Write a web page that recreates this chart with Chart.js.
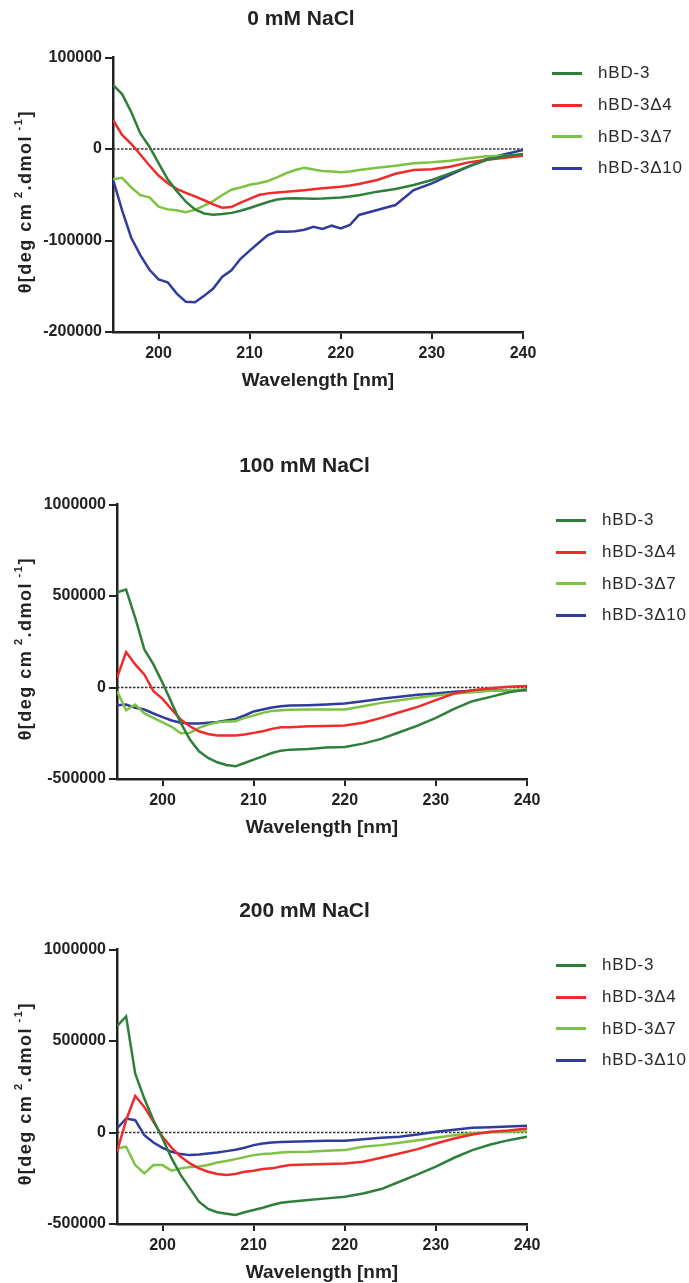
<!DOCTYPE html>
<html>
<head>
<meta charset="utf-8">
<script src="https://cdn.jsdelivr.net/npm/chart.js@4/dist/chart.umd.min.js"></script>
<style>
html,body{margin:0;padding:0;background:#fff;width:689px;height:1283px;overflow:hidden;}
.panel{position:absolute;left:0;width:689px;height:392px;}
.panel canvas{position:absolute;left:0;top:0;}
.leg{position:absolute;height:20px;font:17px "Liberation Sans",Arial,sans-serif;color:#2a2a2a;letter-spacing:0.8px;white-space:nowrap;}
.leg .ln{position:absolute;left:0;top:8.5px;width:30px;height:3px;}
.leg .tx{position:absolute;left:46px;top:0;line-height:20px;}
</style>
</head>
<body>
<div class="panel" id="p0" style="top:0px"><canvas id="c0" width="689" height="392"></canvas></div>
<div class="panel" id="p1" style="top:447px"><canvas id="c1" width="689" height="392"></canvas></div>
<div class="panel" id="p2" style="top:892px"><canvas id="c2" width="689" height="392"></canvas></div>
<script>
// ---------- data ----------
const seriesLabels = ['hBD-3', 'hBD-3\u03944', 'hBD-3\u03947', 'hBD-3\u039410'];
const seriesColors = ['#2f7f3a', '#ef2b2b', '#7cc243', '#2f3c9c'];
const xTicks = [200, 210, 220, 230, 240];

// 0 mM NaCl
const wl0 = [195,196,197,198,199,200,201,202,203,204,205,206,207,208,209,210,211,212,213,214,215,216,217,218,219,220,221,222,224,226,228,230,232,234,236,238,240];
const hbd3_0   = [70000,60000,40500,17000,2500,-15500,-33000,-46000,-57600,-66000,-70500,-71800,-71000,-69800,-67500,-64500,-61200,-58000,-55300,-54000,-53700,-54000,-54300,-54200,-53500,-53000,-52000,-50500,-46600,-43700,-39300,-33900,-26600,-19300,-12000,-7700,-5500];
const hbd3d4_0 = [31700,15300,5500,-6000,-18000,-29000,-37500,-43500,-48000,-51700,-56000,-60500,-64100,-63500,-58500,-54500,-50300,-48500,-47500,-46800,-45800,-45000,-44000,-43000,-42000,-41200,-40000,-38300,-33900,-27000,-23000,-22200,-19300,-14600,-11700,-9500,-7300];
const hbd3d7_0 = [-33200,-31500,-42000,-50500,-52800,-63000,-66000,-67000,-69000,-66500,-62000,-57000,-50300,-44500,-42000,-39000,-37500,-35000,-31000,-26500,-23000,-20400,-22500,-24000,-24500,-25500,-24500,-23000,-20400,-18200,-15700,-14600,-12800,-10200,-8000,-7300,-6600];
const hbd3d10_0= [-33200,-67000,-97000,-116000,-132000,-142500,-145700,-158000,-167000,-167500,-160500,-152500,-139600,-132500,-120000,-111000,-102500,-94000,-90300,-90400,-90000,-88200,-85000,-87400,-83800,-86700,-83100,-72100,-66700,-61200,-44800,-37500,-28400,-19300,-10900,-5800,-1100];
const yTicks0 = [-200000, -100000, 0, 100000];

// 100 mM NaCl
const wl1 = [195,196,197,198,199,200,201,202,203,204,205,206,207,208,209,210,211,212,213,214,216,218,220,222,224,226,228,230,232,234,236,238,240];
const hbd3_1   = [520000,535000,381000,208000,126000,25500,-84000,-193500,-284700,-348600,-385000,-408800,-423400,-430700,-412500,-394000,-376000,-357700,-345000,-339500,-335800,-328500,-325000,-306700,-281000,-244600,-208000,-166000,-116800,-74800,-51100,-25500,-11000];
const hbd3d4_1 = [52900,193500,126000,71000,-20000,-62000,-120000,-175000,-212000,-239000,-253700,-262800,-262800,-262800,-257000,-248000,-239000,-226000,-217000,-217000,-212000,-210000,-208000,-193000,-166000,-135000,-106000,-69400,-32900,-14600,-3600,3700,8000];
const hbd3d7_1 = [-20000,-124000,-93000,-142000,-166000,-190000,-215000,-250000,-248000,-221000,-202600,-190000,-186000,-184000,-166000,-153000,-138700,-127800,-124000,-122000,-120000,-120000,-120500,-102000,-84000,-69400,-56600,-43800,-32900,-25500,-18200,-14600,-11000];
const hbd3d10_1= [-96700,-93000,-111000,-120500,-142000,-162000,-180000,-193000,-197000,-197000,-193000,-188000,-180000,-171500,-153000,-131000,-120500,-109500,-102000,-99000,-96700,-93000,-87600,-74800,-62000,-51100,-40200,-32900,-23700,-18200,-14600,-14600,-14600];
const yTicks1 = [-500000, 0, 500000, 1000000];

// 200 mM NaCl
const wl2 = [195,196,197,198,199,200,201,202,203,204,205,206,207,208,209,210,211,212,213,214,216,218,220,222,224,226,228,230,232,234,236,238,240];
const hbd3_2   = [581800,634500,321800,185400,67300,-32700,-141800,-232700,-305400,-378000,-418000,-436000,-443600,-450900,-436000,-423600,-410900,-396000,-383600,-378000,-369000,-360000,-351000,-333000,-309000,-269000,-229000,-187000,-138000,-96300,-65400,-41800,-23600];
const hbd3d4_2 = [-105000,67000,200000,140000,58000,-23600,-83600,-132700,-169000,-196000,-214500,-227000,-232700,-227000,-214500,-209000,-200000,-196000,-185400,-178000,-174500,-172700,-169000,-160000,-138000,-114500,-91000,-60000,-32700,-11000,3600,11000,21800];
const hbd3d7_2 = [-87300,-78000,-178000,-223600,-178000,-178000,-209000,-196000,-189000,-185400,-178000,-163600,-156000,-145400,-134500,-123600,-118000,-114500,-109000,-107000,-105000,-100000,-96300,-78000,-69000,-56400,-41800,-29000,-14500,-3600,1800,3600,7300];
const hbd3d10_2= [21800,76400,67300,-14500,-54500,-83600,-105400,-118000,-123600,-120000,-114500,-109000,-101800,-94500,-83600,-69000,-60000,-54500,-52500,-51000,-47300,-45400,-45400,-36400,-29000,-23600,-11000,3600,14500,25400,29000,32700,36400];
const yTicks2 = [-500000, 0, 500000, 1000000];

const panelTitles = ['0 mM NaCl', '100 mM NaCl', '200 mM NaCl'];

// ---------- rendering ----------
const FONT = '"Liberation Sans", Arial, Helvetica, sans-serif';
const INK = '#222222';
Chart.defaults.font.family = FONT;
Chart.defaults.color = INK;

const zeroLine = {
  id: 'zeroLine',
  beforeDatasetsDraw(chart) {
    const {ctx, chartArea, scales} = chart;
    const y = scales.y.getPixelForValue(0);
    ctx.save();
    ctx.strokeStyle = '#333';
    ctx.lineWidth = 1.3;
    ctx.setLineDash([2.5, 1.5]);
    ctx.beginPath();
    ctx.moveTo(chartArea.left, y);
    ctx.lineTo(chartArea.right, y);
    ctx.stroke();
    ctx.restore();
  }
};

const panelTitle = {
  id: 'panelTitle',
  afterDraw(chart, args, opts) {
    const {ctx} = chart;
    ctx.save();
    ctx.font = 'bold 21px ' + FONT;
    ctx.fillStyle = INK;
    ctx.textAlign = 'center';
    ctx.textBaseline = 'middle';
    ctx.fillText(opts.text, opts.x, opts.y);
    ctx.restore();
  }
};

const yTitle = {
  id: 'yTitle',
  afterDraw(chart) {
    const {ctx, chartArea} = chart;
    const cx = 26;
    const cy = (chartArea.top + chartArea.bottom) / 2 + 7;
    const big = 'bold 18px ' + FONT;
    const small = 'bold 11px ' + FONT;
    const parts = [
      {t: '\u03b8[deg cm', f: big, dy: 0},
      {t: ' 2', f: small, dy: -7},
      {t: '.dmol', f: big, dy: 0},
      {t: ' -1', f: small, dy: -7},
      {t: ']', f: big, dy: 0}
    ];
    ctx.save();
    ctx.letterSpacing = '1.5px';
    let total = 0;
    parts.forEach(p => { ctx.font = p.f; p.w = ctx.measureText(p.t).width; total += p.w; });
    ctx.translate(cx, cy);
    ctx.rotate(-Math.PI / 2);
    ctx.fillStyle = INK;
    ctx.textBaseline = 'middle';
    ctx.textAlign = 'left';
    let x = -total / 2;
    parts.forEach(p => { ctx.font = p.f; ctx.fillText(p.t, x, p.dy); x += p.w; });
    ctx.restore();
  }
};

function makePanel(idx, canvasId, wl, series, yMin, yMax, yTicks, plotLeft, plotRight, titleX) {
  const datasets = series.map((vals, i) => ({
    label: seriesLabels[i],
    data: wl.map((w, j) => ({x: w, y: vals[j]})),
    borderColor: seriesColors[i],
    backgroundColor: seriesColors[i],
    borderWidth: 2.5,
    pointRadius: 0,
    tension: 0,
    fill: false
  }));
  const tickFont = {family: FONT, size: 16, weight: 'bold'};
  const chart = new Chart(document.getElementById(canvasId), {
    type: 'line',
    data: {datasets},
    options: {
      responsive: false,
      animation: false,
      devicePixelRatio: 1,
      layout: {padding: {left: 0, right: 689 - plotRight, top: 57.5, bottom: 0}},
      plugins: {
        legend: {display: false},
        tooltip: {enabled: false},
        title: {display: false},
        panelTitle: {text: panelTitles[idx], x: titleX, y: 19}
      },
      scales: {
        x: {
          type: 'linear', min: 195, max: 240,
          afterBuildTicks(s) { s.ticks = xTicks.map(v => ({value: v})); },
          afterFit(s) { s.height = 60; },
          ticks: {font: tickFont, color: INK, padding: 5, maxRotation: 0, autoSkip: false, callback: v => String(v)},
          grid: {drawOnChartArea: false, drawTicks: true, tickLength: 7, color: INK, lineWidth: 2},
          border: {display: true, color: INK, width: 2.5},
          title: {display: true, text: 'Wavelength [nm]', color: INK, font: {family: FONT, size: 19, weight: 'bold'}, padding: {top: 0, bottom: 0}}
        },
        y: {
          type: 'linear', min: yMin, max: yMax,
          afterBuildTicks(s) { s.ticks = yTicks.map(v => ({value: v})); },
          afterFit(s) { s.width = plotLeft; },
          ticks: {font: tickFont, color: INK, padding: 3, callback: v => String(v)},
          grid: {drawOnChartArea: false, drawTicks: true, tickLength: 8, color: INK, lineWidth: 2},
          border: {display: true, color: INK, width: 2.5}
        }
      }
    },
    plugins: [zeroLine, panelTitle, yTitle]
  });
  // HTML legend built from the chart's datasets
  const panel = document.getElementById('p' + idx);
  const area = chart.chartArea;
  chart.data.datasets.forEach((ds, i) => {
    const item = document.createElement('div');
    item.className = 'leg';
    item.style.left = (area.right + 29) + 'px';
    item.style.top = (area.top + 15.8 + i * 31.7 - 10) + 'px';
    const ln = document.createElement('span');
    ln.className = 'ln';
    ln.style.background = ds.borderColor;
    const tx = document.createElement('span');
    tx.className = 'tx';
    tx.textContent = ds.label;
    item.appendChild(ln);
    item.appendChild(tx);
    panel.appendChild(item);
  });
  return chart;
}

makePanel(0, 'c0', wl0, [hbd3_0, hbd3d4_0, hbd3d7_0, hbd3d10_0], -200000, 100000, yTicks0, 113, 523, 301);
makePanel(1, 'c1', wl1, [hbd3_1, hbd3d4_1, hbd3d7_1, hbd3d10_1], -500000, 1000000, yTicks1, 117, 527, 304.5);
makePanel(2, 'c2', wl2, [hbd3_2, hbd3d4_2, hbd3d7_2, hbd3d10_2], -500000, 1000000, yTicks2, 117, 527, 304.5);
</script>
</body>
</html>
